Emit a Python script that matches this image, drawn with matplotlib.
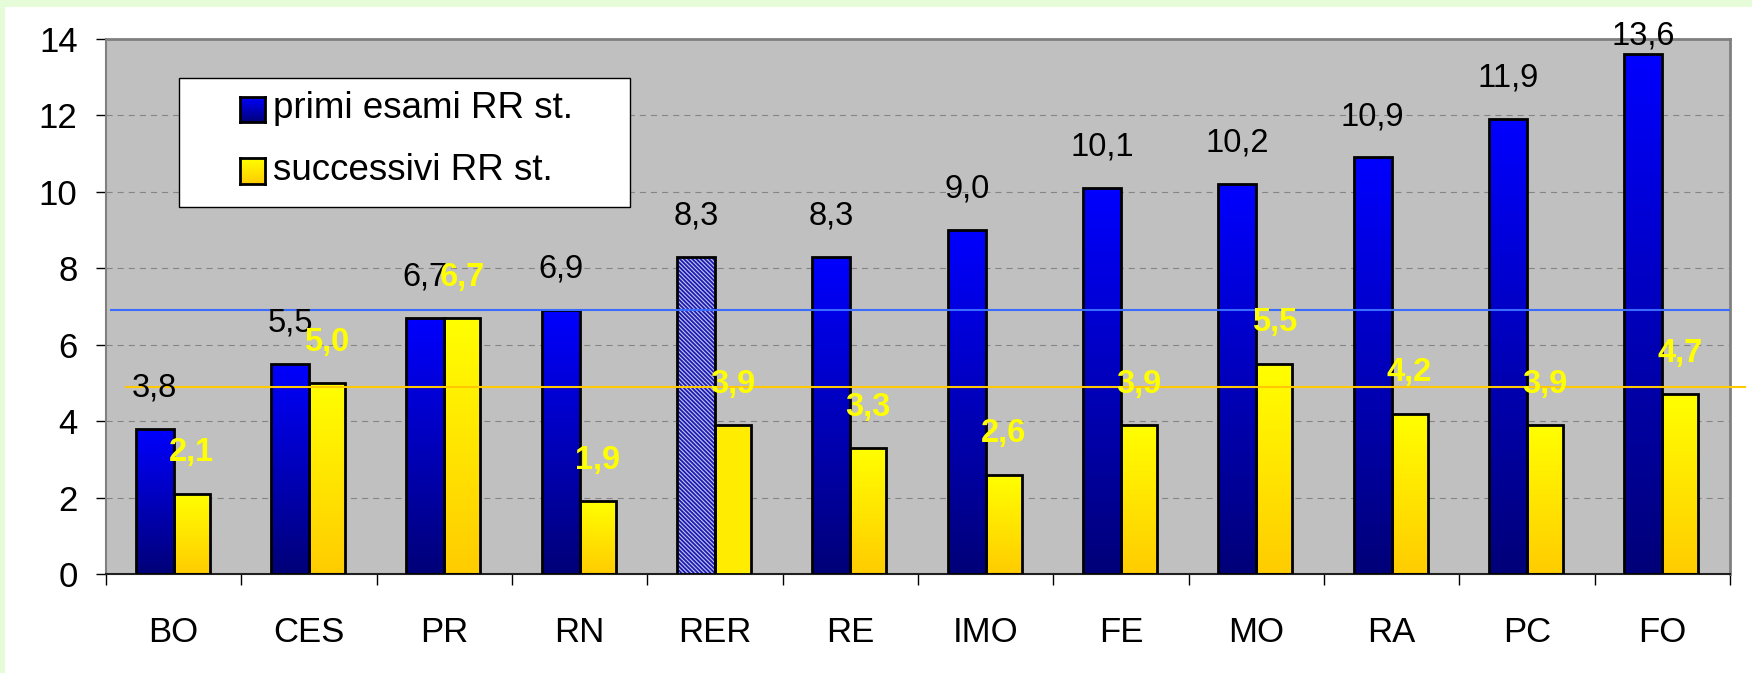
import matplotlib
matplotlib.use('Agg')
import matplotlib.pyplot as plt
import numpy as np
from matplotlib.patches import Rectangle
from matplotlib.colors import LinearSegmentedColormap

# ---- data ----
categories = ['BO', 'CES', 'PR', 'RN', 'RER', 'RE', 'IMO', 'FE', 'MO', 'RA', 'PC', 'FO']
primi = [3.8, 5.5, 6.7, 6.9, 8.3, 8.3, 9.0, 10.1, 10.2, 10.9, 11.9, 13.6]
successivi = [2.1, 5.0, 6.7, 1.9, 3.9, 3.3, 2.6, 3.9, 5.5, 4.2, 3.9, 4.7]
series_names = ['primi esami RR st.', 'successivi RR st.']
ref_primi = 6.9
ref_successivi = 4.9
highlight = 'RER'
yticks = [0, 2, 4, 6, 8, 10, 12, 14]

plt.rcParams['font.family'] = ['Liberation Sans', 'DejaVu Sans']
plt.rcParams['hatch.linewidth'] = 1.3

W, H = 1752, 673
fig = plt.figure(figsize=(W / 100, H / 100), dpi=100)
fig.patch.set_facecolor('white')
green = '#E6FCD8'
fig.patches.append(Rectangle((0, 1 - 7 / H), 1, 7 / H, transform=fig.transFigure,
                             facecolor=green, edgecolor='none', zorder=-5))
fig.patches.append(Rectangle((0, 0), 5 / W, 1, transform=fig.transFigure,
                             facecolor=green, edgecolor='none', zorder=-5))

L, R, T, B = 106, 1730, 39, 574
ax = fig.add_axes([L / W, (H - B) / H, (R - L) / W, (B - T) / H])
ax.set_facecolor('#C0C0C0')

x = np.arange(len(categories))
wb, wy = 0.28, 0.265
cmap_b = LinearSegmentedColormap.from_list('b', ['#000078', '#0000FF'])
cmap_y = LinearSegmentedColormap.from_list('y', ['#FFCC00', '#FFFF00'])
grad = np.linspace(0, 1, 256).reshape(-1, 1)

bars_b = ax.bar(x - wb, primi, width=wb, align='edge', facecolor='none',
                edgecolor='black', linewidth=2.0, zorder=3)
bars_y = ax.bar(x, successivi, width=wy, align='edge', facecolor='none',
                edgecolor='black', linewidth=2.0, zorder=3)

for i, (pb, py) in enumerate(zip(bars_b, bars_y)):
    if categories[i] == highlight:
        ax.bar(x[i] - wb, primi[i], width=wb, align='edge', facecolor='#C4C4F2',
               edgecolor='#1C1CB0', hatch='\\\\\\\\\\\\\\\\', linewidth=0, zorder=2.6)
        ax.bar(x[i], successivi[i], width=wy, align='edge', facecolor='#FFEC00',
               edgecolor='none', linewidth=0, zorder=2.6)
        continue
    for p, cm in ((pb, cmap_b), (py, cmap_y)):
        x0, w, h = p.get_x(), p.get_width(), p.get_height()
        im = ax.imshow(grad, cmap=cm, origin='lower', extent=[x0, x0 + w, 0, h],
                       aspect='auto', zorder=2.5, interpolation='bilinear')
        im.set_clip_path(p)

# reference lines
ax.axhline(ref_primi, xmin=0.003, xmax=1.0, color='#3A6CFF', lw=1.5, zorder=6)
ax.axhline(ref_successivi, xmin=0.0123, xmax=1.0092, color='#FFC800', lw=1.5,
           zorder=6, clip_on=False)

# value labels
off = 1.07
ytop = yticks[-1] + 0.08
for i in range(len(categories)):
    ax.text(x[i] - wb / 2, min(primi[i] + off, ytop), f"{primi[i]:.1f}".replace('.', ','),
            ha='center', va='center', fontsize=23.5, color='black', zorder=7)
    ax.text(x[i] + wy / 2, min(successivi[i] + off, ytop), f"{successivi[i]:.1f}".replace('.', ','),
            ha='center', va='center', fontsize=23.5, color='#FFFF00', fontweight='bold', zorder=7)

# axes styling
ax.set_xlim(-0.5, len(categories) - 0.5)
ax.set_ylim(yticks[0], yticks[-1])
ax.set_yticks(yticks)
ax.set_yticklabels([str(t) for t in yticks])
ax.yaxis.grid(True, color='#858585', linestyle=(0, (5.5, 4.5)), linewidth=0.8)
ax.set_axisbelow(True)
ax.tick_params(axis='y', length=7.5, width=1, color='black', pad=13, labelsize=25)
ax.set_xticks(x)
ax.set_xticklabels(categories)
ax.set_xticks(np.arange(len(categories) + 1) - 0.5, minor=True)
ax.tick_params(axis='x', which='major', length=0, pad=30, labelsize=25)
ax.tick_params(axis='x', which='minor', length=8, width=1, color='black')

for s in ('top', 'right'):
    ax.spines[s].set_color('#808080')
    ax.spines[s].set_linewidth(2)
ax.spines['left'].set_color('#808080')
ax.spines['left'].set_linewidth(1.5)
ax.spines['bottom'].set_color('#202020')
ax.spines['bottom'].set_linewidth(1.5)

# legend (manual)
def ax_fx(px):
    return (px - L) / (R - L)

def ax_fy(py):
    return (B - py) / (B - T)

ax.add_patch(Rectangle((ax_fx(179), ax_fy(207)), ax_fx(630) - ax_fx(179), ax_fy(78) - ax_fy(207),
                       transform=ax.transAxes, facecolor='white', edgecolor='black',
                       linewidth=1.0, zorder=10, clip_on=False))
entries = [(series_names[0], cmap_b, 97, 122, 109), (series_names[1], cmap_y, 158, 184, 171)]
for name, cm, y0, y1, yc in entries:
    iax = fig.add_axes([240 / W, (H - y1) / H, 25 / W, (y1 - y0) / H])
    iax.imshow(grad, cmap=cm, origin='lower', aspect='auto', extent=[0, 1, 0, 1])
    iax.set_xticks([])
    iax.set_yticks([])
    for s in iax.spines.values():
        s.set_linewidth(2)
        s.set_color('black')
    ax.text(ax_fx(273), ax_fy(yc), name, transform=ax.transAxes, ha='left', va='center',
            fontsize=26.5, color='black', zorder=11)

fig.savefig('out.png', dpi=100)
